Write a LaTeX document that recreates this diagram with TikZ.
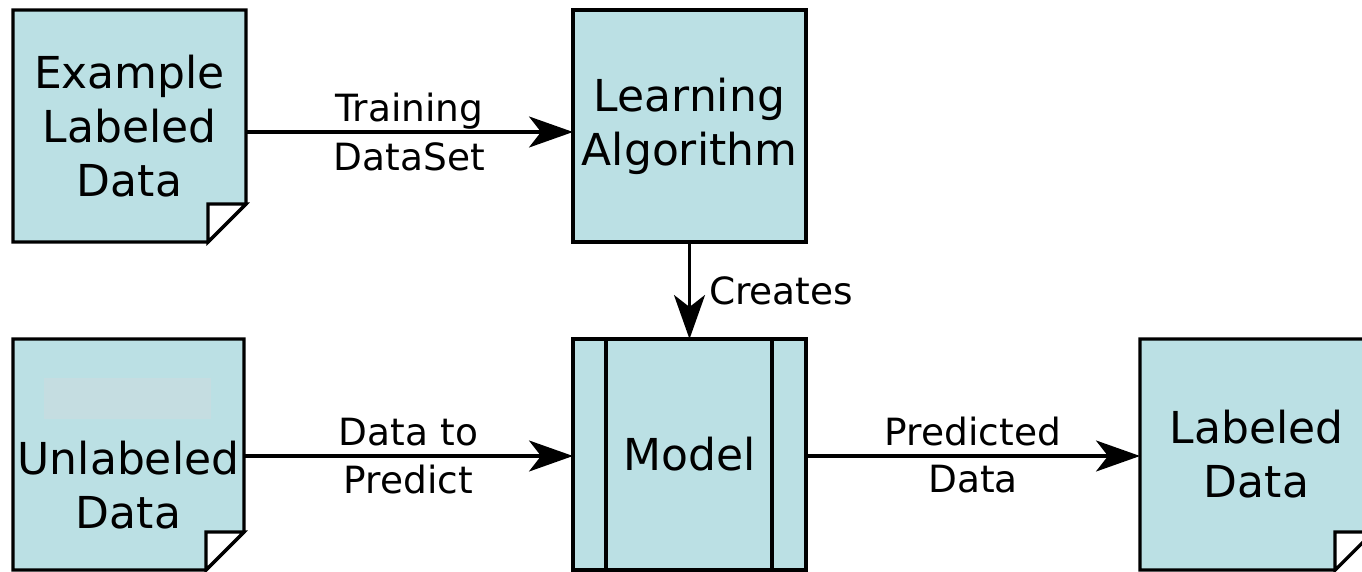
\documentclass[tikz,border=0pt]{standalone}
\usepackage{fontspec}
\setmainfont{DejaVu Sans}
\usetikzlibrary{arrows.meta}
\definecolor{boxfill}{RGB}{187,224,228}
\definecolor{ghost}{RGB}{197,221,225}
\pgfdeclarelayer{bg}
\pgfsetlayers{bg,main}
\newcommand\mydogear[1]{%
  \draw[outline] (#1.north west) -- (#1.north east) -- ([yshift=38pt]#1.south east)
     -- ([xshift=-38pt]#1.south east) -- (#1.south west) -- cycle;
  \draw[line width=3.2pt, fill=white, line join=miter] ([yshift=38pt]#1.south east)
     -- ([xshift=-38pt,yshift=38pt]#1.south east) -- ([xshift=-38pt]#1.south east) -- cycle;}
\begin{document}
\begin{tikzpicture}[x=1pt,y=-1pt,
  shapebox/.style={minimum width=233pt, minimum height=232pt, inner sep=0pt, outer sep=0pt,
     align=center, font=\fontsize{44}{54}\selectfont},
  textonly/.style={inner sep=0pt, align=center, font=\fontsize{44}{54}\selectfont},
  outline/.style={draw=black, line width=3.2pt, fill=boxfill, line join=miter},
  conn/.style={line width=3.2pt, -{Stealth[length=44pt,width=31pt,inset=12pt]}},
  elabel/.style={font=\fontsize{37.5}{49}\selectfont, inner sep=0pt, anchor=base}]
\useasboundingbox (0,0) rectangle (1362,572);
\clip (0,0) rectangle (1362,572);

\node[shapebox] (ex) at (129.5,126) {Example\\Labeled\\Data};
\node[shapebox] (la) at (689.5,126) {Learning\\Algorithm};
\node[shapebox, minimum width=231pt, minimum height=231pt] (un) at (128.5,454.5) {};
\node[textonly] (unt) at (128.5,485.5) {Unlabeled\\Data};
\node[shapebox, minimum height=231pt] (mo) at (689.5,454.5) {Model};
\node[shapebox, minimum height=231pt] (ld) at (1256.5,454.5) {Labeled\\Data};

\begin{pgfonlayer}{bg}
  \fill[white] (0,0) rectangle (1362,572);
  \mydogear{ex}
  \draw[outline] (la.north west) rectangle (la.south east);
  \mydogear{un}
  \fill[ghost] (44,378) rectangle (211,419);
  \draw[outline] (mo.north west) rectangle (mo.south east);
  \draw[line width=3.2pt] ([xshift=33pt]mo.north west) -- ([xshift=33pt]mo.south west);
  \draw[line width=3.2pt] ([xshift=-34pt]mo.north east) -- ([xshift=-34pt]mo.south east);
  \mydogear{ld}
\end{pgfonlayer}

\draw[conn] ([yshift=-6pt]ex.east) -- ([yshift=-6pt]la.west)
  node[midway, elabel, yshift=10pt] {Training}
  node[midway, elabel, yshift=-39pt] {DataSet};
\draw[conn] (la.south) -- (mo.north)
  node[midway, anchor=west, xshift=18pt, inner sep=0pt, font=\fontsize{37.5}{49}\selectfont] {Creates};
\draw[conn] ([yshift=-1.5pt]un.east) -- ([yshift=-1.5pt]mo.west)
  node[midway, elabel, yshift=11pt] {Data to}
  node[midway, elabel, yshift=-37pt] {Predict};
\draw[conn] ([yshift=-1.5pt]mo.east) -- ([yshift=-1.5pt]ld.west)
  node[midway, elabel, yshift=11pt] {Predicted}
  node[midway, elabel, yshift=-36pt] {Data};
\end{tikzpicture}
\end{document}
